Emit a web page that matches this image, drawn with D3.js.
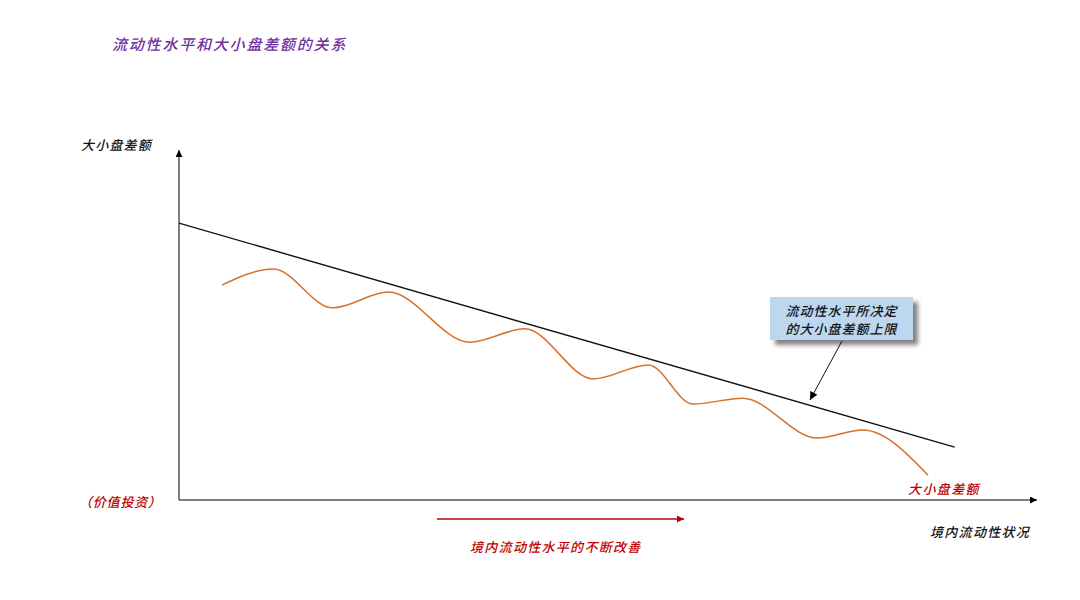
<!DOCTYPE html>
<html><head><meta charset="utf-8">
<script src="https://cdn.jsdelivr.net/npm/d3@7"></script>
<style>
html,body{margin:0;padding:0;background:#fff;}
svg{display:block;}
text{font-family:"Noto Sans CJK SC","Noto Sans",sans-serif;font-style:italic;font-weight:500;}
</style></head>
<body>
<script>
// ---- data ----
const titleText = "流动性水平和大小盘差额的关系";
const yAxisLabel = "大小盘差额";
const xAxisLabel = "境内流动性状况";
const yLowLabel = "（价值投资）";
const curveLabel = "大小盘差额";
const trendLabel = "境内流动性水平的不断改善";
const calloutLines = ["流动性水平所决定", "的大小盘差额上限"];
// liquidity level (x) vs small/large cap spread (y), conceptual 0-100 units
const spreadX = [5.0, 11.0, 17.9, 24.4, 33.9, 40.3, 48.3, 54.7, 59.9, 65.7, 74.4, 79.7, 87.3];
const spreadY = [61.4, 66.0, 54.9, 59.4, 45.1, 48.9, 34.6, 38.6, 27.4, 29.1, 17.7, 20.0, 7.1];
const ceilingX = [0, 90.4];
const ceilingY = [79.1, 15.1];

const W = 1080, H = 600;
const svg = d3.select("body").append("svg").attr("width", W).attr("height", H);
const x = d3.scaleLinear().domain([0, 100]).range([179, 1037]);
const y = d3.scaleLinear().domain([0, 100]).range([500, 150]);

const defs = svg.append("defs");
function marker(id, color, w, h) {
  defs.append("marker").attr("id", id).attr("viewBox", "0 0 10 10")
    .attr("refX", 10).attr("refY", 5).attr("markerWidth", w).attr("markerHeight", h)
    .attr("markerUnits", "userSpaceOnUse").attr("orient", "auto")
    .append("path").attr("d", "M0,0L10,5L0,10Z").attr("fill", color);
}
marker("arrBlack", "#000", 9, 7);
marker("arrRed", "#c00000", 9, 7);
marker("arrThin", "#000", 9, 8);
const f = defs.append("filter").attr("id", "shadow").attr("x", "-20%").attr("y", "-20%").attr("width", "150%").attr("height", "170%");
f.append("feDropShadow").attr("dx", 5).attr("dy", 5).attr("stdDeviation", 2).attr("flood-color", "#666").attr("flood-opacity", 0.8);

// title
svg.append("text").attr("x", 112).attr("y", 50).attr("font-size", 15).attr("letter-spacing", 1.8)
  .attr("fill", "#7030a0").text(titleText);

// axes
svg.append("line").attr("x1", x(0)).attr("y1", y(0)).attr("x2", x(0)).attr("y2", y(100))
  .attr("stroke", "#555").attr("stroke-width", 1.5).attr("marker-end", "url(#arrBlack)");
svg.append("line").attr("x1", x(0)).attr("y1", y(0)).attr("x2", x(100)).attr("y2", y(0))
  .attr("stroke", "#555").attr("stroke-width", 1.5).attr("marker-end", "url(#arrBlack)");

// ceiling line
svg.append("line").attr("x1", x(ceilingX[0])).attr("y1", y(ceilingY[0]))
  .attr("x2", x(ceilingX[1])).attr("y2", y(ceilingY[1]))
  .attr("stroke", "#111").attr("stroke-width", 1.4);

// spread curve
const pts = spreadX.map((d, i) => [d, spreadY[i]]);
svg.append("path").datum(pts)
  .attr("d", d3.line().x(d => x(d[0])).y(d => y(d[1])).curve(d3.curveMonotoneX))
  .attr("fill", "none").attr("stroke", "#d9702a").attr("stroke-width", 1.5);

// labels
svg.append("text").attr("x", 81).attr("y", 150).attr("font-size", 13).attr("letter-spacing", 1.2)
  .attr("fill", "#111").text(yAxisLabel);
svg.append("text").attr("x", 79).attr("y", 507).attr("font-size", 13).attr("letter-spacing", 0.8)
  .attr("fill", "#c00000").text(yLowLabel);
svg.append("text").attr("x", 908).attr("y", 494).attr("font-size", 13).attr("letter-spacing", 1.4)
  .attr("fill", "#c00000").text(curveLabel);
svg.append("text").attr("x", 930).attr("y", 537).attr("font-size", 13).attr("letter-spacing", 1.3)
  .attr("fill", "#111").text(xAxisLabel);

// trend arrow
svg.append("line").attr("x1", 437).attr("y1", 519).attr("x2", 684).attr("y2", 519)
  .attr("stroke", "#c00000").attr("stroke-width", 1.5).attr("marker-end", "url(#arrRed)");
svg.append("text").attr("x", 470).attr("y", 552).attr("font-size", 13).attr("letter-spacing", 1.3)
  .attr("fill", "#c00000").text(trendLabel);

// callout
const bx = 770, by = 297, bw = 143, bh = 43;
svg.append("rect").attr("x", bx).attr("y", by).attr("width", bw).attr("height", bh)
  .attr("fill", "#bdd7ee").attr("filter", "url(#shadow)");
svg.append("text").attr("x", bx + bw / 2).attr("y", by + 19).attr("text-anchor", "middle")
  .attr("font-size", 13).attr("letter-spacing", 1).attr("fill", "#111").text(calloutLines[0]);
svg.append("text").attr("x", bx + bw / 2).attr("y", by + 37).attr("text-anchor", "middle")
  .attr("font-size", 13).attr("letter-spacing", 1).attr("fill", "#111").text(calloutLines[1]);
svg.append("line").attr("x1", 842).attr("y1", 341).attr("x2", 810).attr("y2", 400)
  .attr("stroke", "#111").attr("stroke-width", 1).attr("marker-end", "url(#arrThin)");
</script>
</body></html>
